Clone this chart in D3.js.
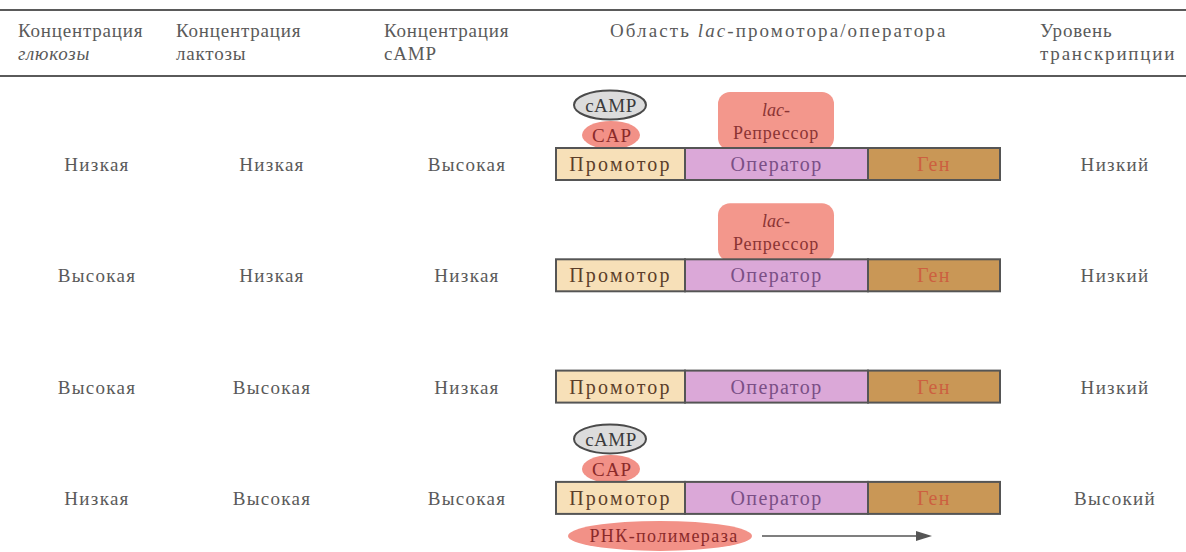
<!DOCTYPE html>
<html><head><meta charset="utf-8">
<script src="https://cdn.jsdelivr.net/npm/d3@7"></script>
<style>body{margin:0;background:#fff}svg{display:block}</style>
</head><body>
<svg id="c" width="1186" height="552"></svg>
<script>
// ---- data ----
const headerCols = ["glucose","lactose","camp","region","level"];
const headerLine1 = ["Концентрация","Концентрация","Концентрация","Область ","Уровень"];
const headerLine2 = ["глюкозы","лактозы","cAMP","","транскрипции"];
const glucose = ["Низкая","Высокая","Высокая","Низкая"];
const lactose = ["Низкая","Низкая","Высокая","Высокая"];
const camp = ["Высокая","Низкая","Низкая","Высокая"];
const transcription = ["Низкий","Низкий","Низкий","Высокий"];
const capBound = [true,false,false,true];
const repressorBound = [true,true,false,false];
const polymeraseBound = [false,false,false,true];
const segments = ["Промотор","Оператор","Ген"];
const segmentLengths = [129,183,132];

// ---- layout ----
const svg = d3.select("#c");
const W = 1186;
const font = "'Liberation Serif', 'Times New Roman', serif";
const textCol = "#5a5a5a";

const rows = d3.range(glucose.length);
const yRow = d3.scaleBand().domain(rows).range([148, 148 + 4*111.3]).paddingInner(0);
const barH = 32;

const cum = [0]; segmentLengths.forEach((v,i)=>cum.push(cum[i]+v));
const xSeg = d3.scaleLinear().domain([0, cum[cum.length-1]]).range([556, 1000]);

const colX = d3.scaleOrdinal().domain(headerCols).range([18,176,384,610,1040]);
const labelX = d3.scaleOrdinal().domain(["glucose","lactose","camp","level"]).range([97,272,467,1115]);

// header rules
svg.selectAll("line.rule").data([10,76]).join("line")
  .attr("x1",0).attr("x2",W).attr("y1",d=>d).attr("y2",d=>d)
  .attr("stroke","#5a5a5a").attr("stroke-width",2);

// header text
const hg = svg.append("g").attr("font-family",font).attr("font-size",19).attr("letter-spacing",0.8).attr("fill",textCol);
headerCols.forEach((c,i)=>{
  const t1 = hg.append("text").attr("x",colX(c)).attr("y",37).text(headerLine1[i]);
  if(c==="region"){
    t1.attr("letter-spacing",2.1);
    t1.append("tspan").attr("font-style","italic").text("lac");
    t1.append("tspan").text("-промотора/оператора");
  }
  if(headerLine2[i]){
    const t2 = hg.append("text").attr("x",colX(c)).attr("y",60)
      .attr("font-style", c==="glucose"?"italic":"normal").text(headerLine2[i]);
    if(c==="level") t2.attr("letter-spacing",1.8);
  }
});

// row labels
const lg = svg.append("g").attr("font-family",font).attr("font-size",19).attr("letter-spacing",1.3).attr("fill",textCol).attr("text-anchor","middle");
const rowCols = [["glucose",glucose],["lactose",lactose],["camp",camp],["level",transcription]];
rows.forEach(r=>{
  rowCols.forEach(([c,arr])=>{
    lg.append("text").attr("x",labelX(c)).attr("y",yRow(r)+barH/2+7).text(arr[r]);
  });
});

const segFill = ["#f7e0b8","#dba8d8","#c99756"];
const segText = ["#5b3e2a","#7a4f86","#cc6040"];
const segSpacing = [2.2,1.4,1.4];

rows.forEach(r=>{
  const top = yRow(r);
  const g = svg.append("g").attr("font-family",font);

  // repressor
  if(repressorBound[r]){
    g.append("rect").attr("x",718).attr("y",top-56).attr("width",116).attr("height",58)
      .attr("rx",12).attr("fill","#f3978c");
    g.append("text").attr("x",776).attr("y",top-32).attr("text-anchor","middle")
      .attr("font-size",18).attr("font-style","italic").attr("fill","#8a3434").text("lac-");
    g.append("text").attr("x",776).attr("y",top-9).attr("text-anchor","middle")
      .attr("font-size",18).attr("letter-spacing",0.8).attr("fill","#8a3434").text("Репрессор");
  }
  // CAP + cAMP
  if(capBound[r]){
    g.append("ellipse").attr("cx",611).attr("cy",top-13).attr("rx",29).attr("ry",14).attr("fill","#f29187");
    g.append("text").attr("x",612).attr("y",top-6).attr("text-anchor","middle")
      .attr("font-size",19).attr("letter-spacing",1).attr("fill","#8a2a2a").text("CAP");
    g.append("ellipse").attr("cx",610).attr("cy",top-43).attr("rx",36).attr("ry",14.5)
      .attr("fill","#dcdcdc").attr("stroke","#4a4a4a").attr("stroke-width",2);
    g.append("text").attr("x",611).attr("y",top-36).attr("text-anchor","middle")
      .attr("font-size",19).attr("letter-spacing",0.5).attr("fill","#3a3a3a").text("cAMP");
  }
  // bar segments
  segments.forEach((s,i)=>{
    g.append("rect").attr("x",xSeg(cum[i])).attr("y",top).attr("width",xSeg(cum[i+1])-xSeg(cum[i])).attr("height",barH)
      .attr("fill",segFill[i]).attr("stroke","#555").attr("stroke-width",2);
    g.append("text").attr("x",(xSeg(cum[i])+xSeg(cum[i+1]))/2).attr("y",top+barH/2+7)
      .attr("text-anchor","middle").attr("font-size",20).attr("letter-spacing",segSpacing[i]).attr("fill",segText[i]).text(s);
  });
  // polymerase
  if(polymeraseBound[r]){
    g.append("ellipse").attr("cx",660).attr("cy",top+barH+22).attr("rx",92).attr("ry",15).attr("fill","#f29187");
    g.append("text").attr("x",664).attr("y",top+barH+28).attr("text-anchor","middle")
      .attr("font-size",18).attr("letter-spacing",1.4).attr("fill","#8a2a2a").text("РНК-полимераза");
    g.append("line").attr("x1",762).attr("x2",918).attr("y1",top+barH+22).attr("y2",top+barH+22)
      .attr("stroke","#555").attr("stroke-width",1.5);
    g.append("path").attr("d",`M916,${top+barH+17} L932,${top+barH+22} L916,${top+barH+27} Z`).attr("fill","#555");
  }
});
</script>
</body></html>
